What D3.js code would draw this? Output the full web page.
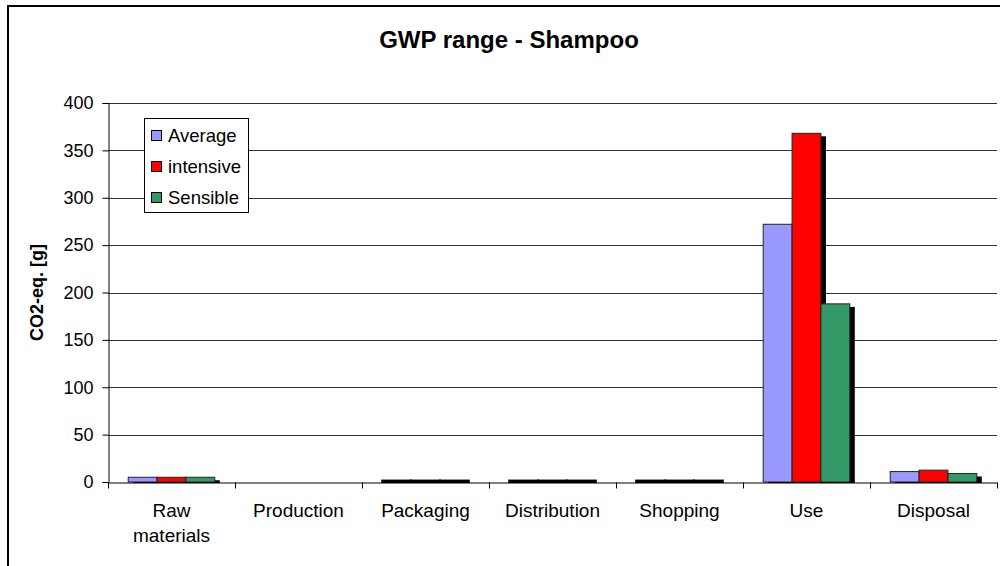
<!DOCTYPE html>
<html>
<head>
<meta charset="utf-8">
<script src="https://cdn.jsdelivr.net/npm/d3@7"></script>
<style>
  html, body { margin: 0; padding: 0; background: #fff; }
  svg { display: block; font-family: "Liberation Sans", Arial, sans-serif; }
</style>
</head>
<body>
<svg id="chart" width="1000" height="566"></svg>
<script>
// Life-cycle stages and GWP per usage scenario (g CO2-eq.)
const categories = ["Raw materials", "Production", "Packaging", "Distribution", "Shopping", "Use", "Disposal"];
const seriesNames = ["Average", "intensive", "Sensible"];
const averageValues = [5, 0, 1.5, 1.5, 1.5, 272, 11];
const intensiveValues = [5, 0, 1.5, 1.5, 1.5, 368, 12.5];
const sensibleValues = [5, 0, 1.5, 1.5, 1.5, 188, 9];
const yTicks = [0, 50, 100, 150, 200, 250, 300, 350, 400];
const colors = ["#9999ff", "#ff0000", "#339966"];

const seriesValues = [averageValues, intensiveValues, sensibleValues];
const rows = categories.map((c, i) => ({
  category: c,
  values: seriesNames.map((s, k) => ({ series: s, value: seriesValues[k][i], k }))
}));

const svg = d3.select("#chart");
const margin = { left: 108, right: 3, top: 103, bottom: 84 };
const W = 1000, H = 566;

const x = d3.scaleBand().domain(categories).range([margin.left, W - margin.right]).paddingInner(0).paddingOuter(0);
const x1 = d3.scaleBand().domain(seriesNames).range([0, x.bandwidth()]).paddingOuter(0.7).paddingInner(0);
const y = d3.scaleLinear().domain([0, 400]).range([H - margin.bottom, margin.top]);

// Outer frame (top and left edges visible)
svg.append("path")
  .attr("d", `M8,${H} L8,6 L${W},6`)
  .attr("fill", "none").attr("stroke", "#000").attr("stroke-width", 2);

// Title
svg.append("text")
  .attr("x", 509).attr("y", 48)
  .attr("text-anchor", "middle")
  .attr("font-weight", "bold").attr("font-size", 24)
  .text("GWP range - Shampoo");

// Gridlines
svg.append("g").selectAll("line").data(yTicks.filter(d => d > 0)).join("line")
  .attr("x1", margin.left).attr("x2", W - margin.right)
  .attr("y1", d => Math.round(y(d)) + 0.5).attr("y2", d => Math.round(y(d)) + 0.5)
  .attr("stroke", "#333").attr("stroke-width", 1);

// Y axis
const yAxis = d3.axisLeft(y).tickValues(yTicks).tickSize(6).tickPadding(9);
const gy = svg.append("g").attr("transform", `translate(${margin.left + 0.5},0)`).call(yAxis);
gy.select(".domain").attr("stroke", "#000");
gy.selectAll(".tick line").attr("stroke", "#000");
gy.selectAll(".tick text").attr("font-size", 18).attr("fill", "#000")
  .attr("font-family", "'Liberation Sans', Arial, sans-serif");

// Y axis title
svg.append("text")
  .attr("transform", `translate(43,${(y(0) + y(400)) / 2}) rotate(-90)`)
  .attr("text-anchor", "middle")
  .attr("font-weight", "bold").attr("font-size", 18)
  .text("CO2-eq. [g]");

// Bars with drop shadow
const groups = svg.append("g").selectAll("g").data(rows).join("g")
  .attr("transform", d => `translate(${x(d.category)},0)`);

groups.selectAll("rect.shadow").data(d => d.values.filter(v => v.value > 0)).join("rect")
  .attr("class", "shadow")
  .attr("x", d => x1(d.series) + 5)
  .attr("y", d => y(d.value) + 3)
  .attr("width", x1.bandwidth())
  .attr("height", d => Math.max(0, y(0) - y(d.value) - 2))
  .attr("fill", "#000");

groups.selectAll("rect.bar").data(d => d.values.filter(v => v.value > 0)).join("rect")
  .attr("class", "bar")
  .attr("x", d => x1(d.series))
  .attr("y", d => y(d.value))
  .attr("width", x1.bandwidth())
  .attr("height", d => y(0) - y(d.value))
  .attr("fill", d => (y(0) - y(d.value) < 2 ? "#000" : colors[d.k]))
  .attr("stroke", d => (y(0) - y(d.value) < 2 ? "#000" : "#222"))
  .attr("stroke-width", d => (y(0) - y(d.value) < 2 ? 2 : 1));

// X axis
const xAxis = d3.axisBottom(x).tickValues([]).tickSizeOuter(0);
const gx = svg.append("g").attr("transform", `translate(0,${Math.round(y(0)) + 0.5})`).call(xAxis);
gx.select(".domain").attr("stroke", "#000");
const boundaries = d3.range(categories.length + 1).map(i => margin.left + i * x.bandwidth());
gx.selectAll("line.sep").data(boundaries).join("line")
  .attr("class", "sep")
  .attr("x1", d => Math.round(d) + 0.5).attr("x2", d => Math.round(d) + 0.5)
  .attr("y1", 0).attr("y2", 6).attr("stroke", "#000");

// Category labels (wrapped)
const labelLines = { "Raw materials": ["Raw", "materials"] };
svg.append("g").selectAll("text").data(categories).join("text")
  .attr("x", d => x(d) + x.bandwidth() / 2)
  .attr("y", 517)
  .attr("text-anchor", "middle")
  .attr("font-size", 19)
  .each(function (d) {
    const lines = labelLines[d] || [d];
    d3.select(this).selectAll("tspan").data(lines).join("tspan")
      .attr("x", x(d) + x.bandwidth() / 2)
      .attr("dy", (l, i) => i === 0 ? 0 : 25)
      .text(l => l);
  });

// Legend
const legend = svg.append("g").attr("transform", "translate(144.5,118.5)");
legend.append("rect").attr("width", 104).attr("height", 94)
  .attr("fill", "#fff").attr("stroke", "#000");
const items = legend.selectAll("g").data(seriesNames).join("g")
  .attr("transform", (d, i) => `translate(7,${17 + i * 31})`);
items.append("rect").attr("x", 0).attr("y", -5).attr("width", 10).attr("height", 10)
  .attr("fill", (d, i) => colors[i]).attr("stroke", "#000");
items.append("text").attr("x", 16.5).attr("y", 6.5)
  .attr("font-size", 18.5).text(d => d);
</script>
</body>
</html>
